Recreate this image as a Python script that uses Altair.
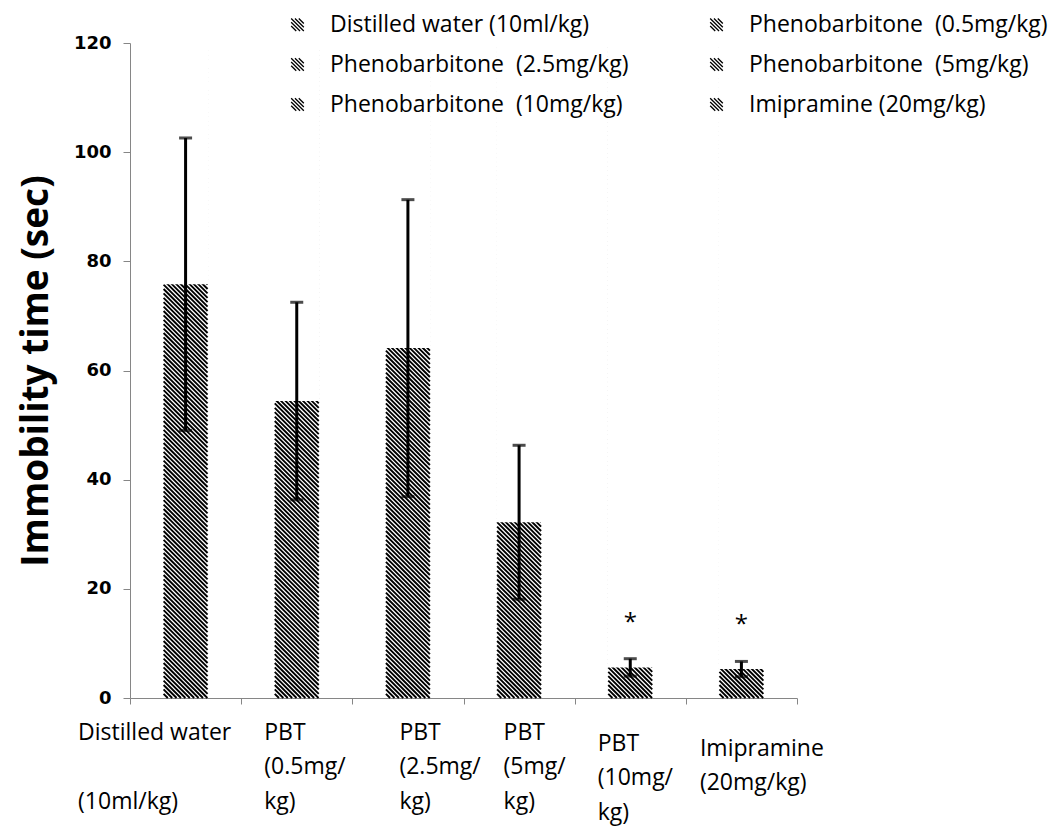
import altair as alt
import pandas as pd

# ---- data ----
groups = [
    "Distilled water (10ml/kg)",
    "Phenobarbitone\u00a0 (0.5mg/kg)",
    "Phenobarbitone\u00a0 (2.5mg/kg)",
    "Phenobarbitone\u00a0 (5mg/kg)",
    "Phenobarbitone\u00a0 (10mg/kg)",
    "Imipramine (20mg/kg)",
]
# legend is filled column by column: this order gives the reference's rows
legend_order = [groups[0], groups[2], groups[4], groups[1], groups[3], groups[5]]
x_labels = [
    "Distilled water|\u200b|(10ml/kg)",
    "PBT|(0.5mg/|kg)",
    "PBT|(2.5mg/|kg)",
    "PBT|(5mg/|kg)",
    "PBT|(10mg/|kg)",
    "Imipramine|(20mg/kg)",
]
means = [75.8, 54.4, 64.1, 32.2, 5.6, 5.3]
errors = [26.8, 18.1, 27.2, 14.1, 1.6, 1.4]
sig = ["", "", "", "", "*", "*"]
y_ticks = [0, 20, 40, 60, 80, 100, 120]

df = pd.DataFrame({"group": groups, "label": x_labels, "mean": means,
                   "err": errors, "sig": sig})

# ---- styling ----
GRAY = "#868686"
FONT = "Open Sans"
BAR_W = 44
PLOT_W, PLOT_H = 667, 655
HATCH_STEP = 4.4


def hatch_column(width, height, step):
    """Hatch pattern shape: '\\' stripes filling a width x height column whose
    bottom-centre is the symbol origin (symbol size 4 -> 1 unit = 1 px)."""
    half = width / 2
    parts = []
    c = -height - half
    while c < half:
        x_lo = max(-half, -height - c)
        x_hi = min(half, -c)
        if x_hi - x_lo > 0.2:
            parts.append(f"M{x_lo:.2f},{x_lo + c:.2f}L{x_hi:.2f},{x_hi + c:.2f}")
        c += step
    return "".join(parts)


hatch_path = hatch_column(BAR_W, PLOT_H - 4, HATCH_STEP)

legend_symbol = ("M-1,0.2L-0.2,1M-1,-0.4L0.4,1M-1,-1L1,1"
                 "M-0.4,-1L1,0.4M0.2,-1L1,-0.2")


def per_label(pairs, default):
    return {
        "condition": [
            {"test": f"isString(datum.value) && indexof(datum.value, '{k}') >= 0",
             "value": v}
            for k, v in pairs
        ],
        "value": default,
    }


x_axis = alt.Axis(
    title=None,
    labelExpr="isString(datum.value) ? split(datum.value, '|') : ''",
    labelAngle=0,
    labelAlign="left",
    labelBaseline="top",
    labelFont=FONT,
    labelFontSize=23,
    labelColor="black",
    labelLineHeight=34.5,
    labelLimit=0,
    labelOverlap=False,
    labelPadding=per_label([("(10mg", 28), ("Imipramine", 33)], 17),
    labelOffset=per_label([
        ("Distilled", -108), ("(0.5mg", -33), ("(2.5mg", -9),
        ("(5mg", -16), ("(10mg", -33), ("Imipramine", -42)], 0),
    tickBand="extent",
    tickSize=6,
    tickColor=GRAY,
    domainColor=GRAY,
    grid=False,
)

y_axis = alt.Axis(
    title="Immobility time (sec)",
    values=y_ticks,
    titleFont=FONT,
    titleFontSize=37,
    titleFontWeight="bold",
    titleColor="black",
    titlePadding=18,
    labelFont="DejaVu Sans",
    labelFontSize=18,
    labelFontWeight="bold",
    labelColor="black",
    labelPadding=12,
    tickSize=7,
    tickColor=GRAY,
    domainColor=GRAY,
    grid=False,
)

x = alt.X("label:N", sort=x_labels,
          scale=alt.Scale(paddingInner=0, paddingOuter=0), axis=x_axis)
y_scale = alt.Scale(domain=[0, 120], nice=False)

base = alt.Chart(df).transform_calculate(
    lo="datum.mean - datum.err",
    hi="datum.mean + datum.err",
    star="datum.mean + datum.err + 6.6",
)

# hatched column standing on the baseline of each category
hatch = base.mark_point(shape=hatch_path, size=4, filled=False,
                        stroke="black", strokeWidth=1.9, opacity=1).encode(
    x=x, y=alt.Y(datum=0, scale=y_scale, axis=y_axis))

# white mask above each bar's value: the hatch shows only from 0 to mean
mask = base.mark_bar(width=BAR_W + 2, color="white").encode(
    x=x, y=alt.Y("mean:Q", scale=y_scale, axis=y_axis), y2=alt.datum(120))

rule = base.mark_rule(strokeWidth=3).encode(
    x=x,
    y=alt.Y("lo:Q", scale=y_scale, axis=y_axis),
    y2="hi:Q",
    stroke=alt.Stroke(
        "group:N", sort=legend_order,
        scale=alt.Scale(domain=legend_order, range=["black"] * len(groups)),
        legend=alt.Legend(
            title=None, orient="none", legendX=156, legendY=-30,
            columns=2, columnPadding=76, rowPadding=16,
            symbolType=legend_symbol, symbolSize=160,
            symbolStrokeWidth=1.3, labelOffset=21,
            labelFont=FONT, labelFontSize=23, labelColor="black",
            labelLimit=0,
        ),
    ),
)

cap_hi = base.mark_tick(size=13, thickness=3, color="black").encode(
    x=x, y=alt.Y("hi:Q", scale=y_scale, axis=y_axis))
cap_lo = base.mark_tick(size=13, thickness=3, color="black").encode(
    x=x, y=alt.Y("lo:Q", scale=y_scale, axis=y_axis))

stars = base.mark_text(font=FONT, fontSize=24, color="black",
                       baseline="middle").encode(
    x=x, y=alt.Y("star:Q", scale=y_scale, axis=y_axis), text="sig:N")

chart = alt.layer(hatch, mask, rule, cap_hi, cap_lo, stars).properties(
    width=PLOT_W, height=PLOT_H,
    padding={"left": 9, "top": 5, "right": 0, "bottom": 6},
).configure(font=FONT).configure_view(stroke=None)

chart.save("out.html", embed_options={"renderer": "svg", "actions": False})
